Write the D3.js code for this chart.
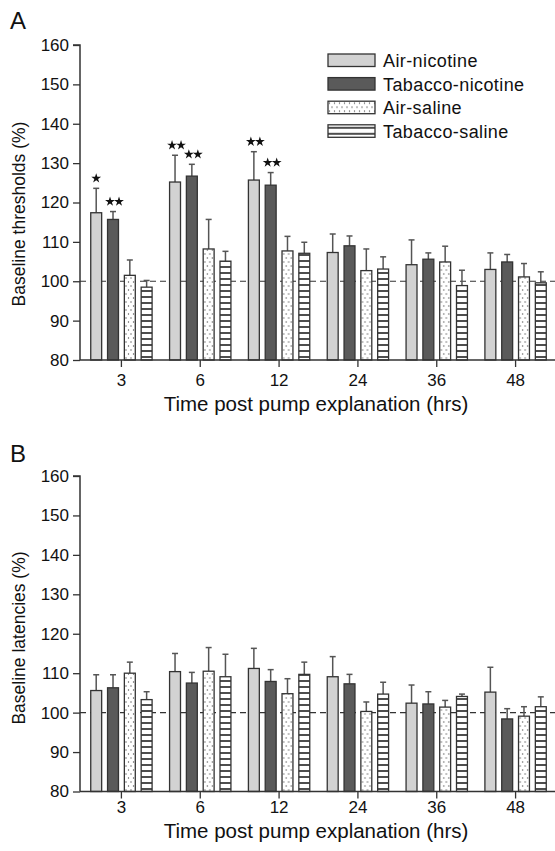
<!DOCTYPE html>
<html>
<head>
<meta charset="utf-8">
<script src="https://cdn.jsdelivr.net/npm/d3@7"></script>
<style>
  body { margin: 0; background: #fff; }
  svg { display: block; font-family: "Liberation Sans", Arial, sans-serif; }
</style>
</head>
<body>
<div id="chart"></div>
<script>
const hours = ['3', '6', '12', '24', '36', '48'];
const series = ['Air-nicotine', 'Tabacco-nicotine', 'Air-saline', 'Tabacco-saline'];
const yTicks = [80, 90, 100, 110, 120, 130, 140, 150, 160];

// panel A: thresholds, mean and mean+SEM per series (rows follow hours)
const thrMean = [
  [117.4, 115.7, 101.5, 98.5],
  [125.2, 126.7, 108.2, 105.1],
  [125.7, 124.4, 107.7, 107.1],
  [107.3, 109.0, 102.7, 103.1],
  [104.2, 105.6, 104.9, 98.9],
  [103.0, 104.9, 101.1, 99.6]
];
const thrTop = [
  [123.6, 117.7, 105.4, 100.2],
  [132.0, 129.7, 115.7, 107.6],
  [132.9, 127.6, 111.4, 109.9],
  [112.0, 111.5, 108.2, 106.2],
  [110.5, 107.2, 108.9, 102.8],
  [107.2, 106.8, 104.5, 102.4]
];
const thrStars = [
  [1, 2, 0, 0],
  [2, 2, 0, 0],
  [2, 2, 0, 0],
  [0, 0, 0, 0],
  [0, 0, 0, 0],
  [0, 0, 0, 0]
];

// panel B: latencies
const latMean = [
  [105.6, 106.3, 110.0, 103.3],
  [110.4, 107.5, 110.5, 109.1],
  [111.2, 107.9, 104.8, 109.7],
  [109.1, 107.3, 100.3, 104.7],
  [102.4, 102.2, 101.4, 104.1],
  [105.2, 98.4, 99.1, 101.5]
];
const latTop = [
  [109.6, 109.6, 112.8, 105.3],
  [115.0, 110.2, 116.5, 114.8],
  [116.3, 110.9, 108.6, 112.8],
  [114.2, 109.7, 102.7, 107.7],
  [107.0, 105.3, 103.1, 104.7],
  [111.5, 101.0, 101.5, 104.0]
];

const width = 555, height = 851;
const fills = ['#d2d2d2', '#5a5a5a', 'url(#dots)', 'url(#stripes)'];
const ink = '#333';
const starPath = d3.symbol().type(d3.symbolStar).size(30)();

const svg = d3.select('#chart').append('svg')
  .attr('width', width)
  .attr('height', height);

const defs = svg.append('defs');
const dots = defs.append('pattern')
  .attr('id', 'dots')
  .attr('patternUnits', 'userSpaceOnUse')
  .attr('width', 5).attr('height', 8);
dots.append('rect').attr('width', 5).attr('height', 8).attr('fill', '#fff');
dots.append('circle').attr('cx', 1.5).attr('cy', 2).attr('r', 0.7).attr('fill', '#555');
dots.append('circle').attr('cx', 4).attr('cy', 6).attr('r', 0.7).attr('fill', '#555');

const stripes = defs.append('pattern')
  .attr('id', 'stripes')
  .attr('patternUnits', 'userSpaceOnUse')
  .attr('width', 10).attr('height', 6);
stripes.append('rect').attr('width', 10).attr('height', 6).attr('fill', '#fff');
stripes.append('rect').attr('y', 2.2).attr('width', 10).attr('height', 1.6).attr('fill', '#222');

function drawPanel(opts) {
  const { top, bottom, means, tops, stars, yLabel, yLabelMid, letter, letterY, tickPad, titleY } = opts;
  const left = 80;

  const x0 = d3.scaleBand().domain(hours).range([82, 555]);
  const x1 = d3.scaleBand().domain(series).range([0, x0.bandwidth()])
    .paddingInner(0.35).paddingOuter(0.52);
  const y = d3.scaleLinear().domain([80, 160]).range([bottom, top]);

  const g = svg.append('g');

  // dashed reference at 100
  g.append('line')
    .attr('x1', left).attr('x2', width)
    .attr('y1', y(100)).attr('y2', y(100))
    .attr('stroke', '#333').attr('stroke-width', 1.2)
    .attr('stroke-dasharray', '6,4');

  const groups = g.selectAll('g.grp')
    .data(hours.map((h, i) => ({ h, i })))
    .join('g')
    .attr('class', 'grp')
    .attr('transform', (d) => `translate(${x0(d.h)},0)`);

  const bars = groups.selectAll('g.bar')
    .data((d) => series.map((s, j) => ({
      s, j, v: means[d.i][j], t: tops[d.i][j], star: stars ? stars[d.i][j] : 0
    })))
    .join('g')
    .attr('class', 'bar');

  const cx = (d) => x1(d.s) + x1.bandwidth() / 2;

  // error bars (upper only)
  bars.append('line')
    .attr('x1', cx).attr('x2', cx)
    .attr('y1', (d) => y(d.v)).attr('y2', (d) => y(d.t))
    .attr('stroke', '#555').attr('stroke-width', 1.5);
  bars.append('line')
    .attr('x1', (d) => cx(d) - 3)
    .attr('x2', (d) => cx(d) + 3)
    .attr('y1', (d) => y(d.t)).attr('y2', (d) => y(d.t))
    .attr('stroke', '#555').attr('stroke-width', 1.5);

  bars.append('rect')
    .attr('x', (d) => x1(d.s))
    .attr('y', (d) => y(d.v))
    .attr('width', x1.bandwidth())
    .attr('height', (d) => y(80) - y(d.v))
    .attr('fill', (d) => fills[d.j])
    .attr('stroke', ink).attr('stroke-width', 1.3);

  // significance stars
  bars.filter((d) => d.star > 0)
    .selectAll('path.star')
    .data((d) => d3.range(d.star).map((k) => ({ d, k })))
    .join('path')
    .attr('class', 'star')
    .attr('d', starPath)
    .attr('fill', '#111')
    .attr('transform', (e) => {
      const off = (e.k - (e.d.star - 1) / 2) * 9;
      return `translate(${cx(e.d) + off + (e.d.star > 1 ? 1.5 : 0)},${y(e.d.t) - 10})`;
    });

  // y axis
  const yAxis = g.append('g')
    .attr('transform', `translate(${left},0)`)
    .call(d3.axisLeft(y).tickValues(yTicks).tickSize(7).tickPadding(4));
  yAxis.select('.domain').attr('stroke', ink).attr('stroke-width', 1.5).attr('d', `M-7,${top}H0V${bottom}`);
  yAxis.selectAll('.tick line').attr('stroke', ink).attr('stroke-width', 1.3);
  yAxis.selectAll('.tick text')
    .attr('font-size', 17).attr('fill', '#111')
    .attr('font-family', '"Liberation Sans", Arial, sans-serif');

  // x axis
  g.append('line')
    .attr('x1', left).attr('x2', width)
    .attr('y1', bottom).attr('y2', bottom)
    .attr('stroke', ink).attr('stroke-width', 1.5);
  const xAxis = g.append('g')
    .attr('transform', `translate(0,${bottom})`)
    .call(d3.axisBottom(x0).tickSize(7).tickPadding(tickPad));
  xAxis.select('.domain').remove();
  xAxis.selectAll('.tick line').attr('stroke', ink).attr('stroke-width', 1.3);
  xAxis.selectAll('.tick text')
    .attr('font-size', 17).attr('fill', '#111')
    .attr('font-family', '"Liberation Sans", Arial, sans-serif');

  g.append('text')
    .attr('x', 316).attr('y', bottom + titleY)
    .attr('text-anchor', 'middle')
    .attr('font-size', 20.5).attr('fill', '#111')
    .text('Time post pump explanation (hrs)');

  g.append('text')
    .attr('transform', `translate(25,${yLabelMid}) rotate(-90)`)
    .attr('text-anchor', 'middle')
    .attr('font-size', 17.5).attr('fill', '#111')
    .text(yLabel);

  g.append('text')
    .attr('x', 10).attr('y', letterY)
    .attr('font-size', 24).attr('fill', '#111')
    .text(letter);
}

drawPanel({
  top: 45, bottom: 360,
  means: thrMean, tops: thrTop, stars: thrStars,
  yLabel: 'Baseline thresholds (%)', yLabelMid: 214,
  letter: 'A', letterY: 29, tickPad: 7, titleY: 51
});

drawPanel({
  top: 476, bottom: 791.5,
  means: latMean, tops: latTop, stars: null,
  yLabel: 'Baseline latencies (%)', yLabelMid: 638,
  letter: 'B', letterY: 462, tickPad: 2, titleY: 46
});

// legend
const legend = svg.append('g').attr('transform', 'translate(328,54)');
const rows = legend.selectAll('g')
  .data(series)
  .join('g')
  .attr('transform', (d, i) => `translate(0,${i * 23.6})`);
rows.append('rect')
  .attr('width', 47).attr('height', 12.5)
  .attr('fill', (d, i) => fills[i])
  .attr('stroke', ink).attr('stroke-width', 1.3);
rows.append('text')
  .attr('x', 55).attr('y', 13)
  .attr('font-size', 18).attr('letter-spacing', 0.4).attr('fill', '#111')
  .text((d) => d);
</script>
</body>
</html>
